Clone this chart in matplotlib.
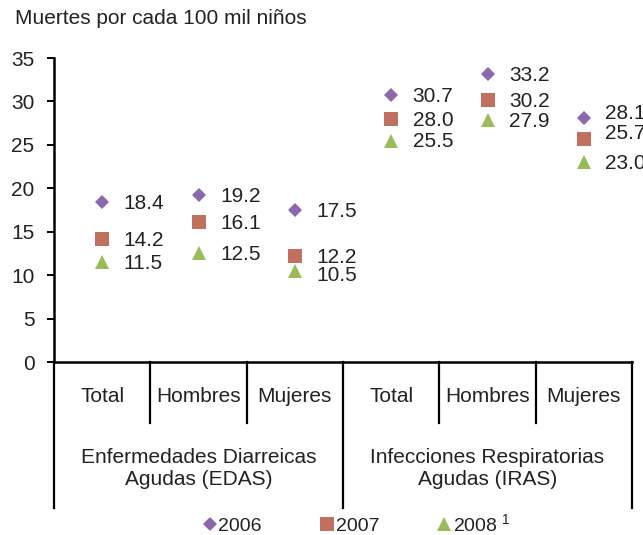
import matplotlib
matplotlib.use("Agg")
import matplotlib.pyplot as plt
from matplotlib.lines import Line2D
from matplotlib.transforms import blended_transform_factory

plt.rcParams['font.family'] = ['Liberation Sans', 'DejaVu Sans']
plt.rcParams['mathtext.fontset'] = 'custom'
plt.rcParams['mathtext.rm'] = 'Liberation Sans'
plt.rcParams['mathtext.it'] = 'Liberation Sans'
plt.rcParams['mathtext.default'] = 'rm'

subgroups = ["Total", "Hombres", "Mujeres", "Total", "Hombres", "Mujeres"]
groups = ["Enfermedades Diarreicas\nAgudas (EDAS)", "Infecciones Respiratorias\nAgudas (IRAS)"]
years = ["2006", "2007", "2008 $^{1}$"]
v2006 = [18.4, 19.2, 17.5, 30.7, 33.2, 28.1]
v2007 = [14.2, 16.1, 12.2, 28.0, 30.2, 25.7]
v2008 = [11.5, 12.5, 10.5, 25.5, 27.9, 23.0]
yticks = [0, 5, 10, 15, 20, 25, 30, 35]

series = [v2006, v2007, v2008]
colors = ["#8B68AC", "#C0705F", "#9BBB59"]
markers = ["D", "s", "^"]
msizes = [7.5, 10.5, 10.5]
# vertical nudges (points) for labels that would otherwise collide
nudges = [
    [0, 0, 0, 0, 0, 4],
    [0, 0, 0, 0, 0, 4.5],
    [0, 0, -2.5, 0, 0, 0],
]
txt = "#222222"
fs = 15

W, H = 643, 535
fig = plt.figure(figsize=(W / 100, H / 100), dpi=100)
ax = fig.add_axes([54 / W, 1 - 362 / H, (632 - 54) / W, (362 - 58) / H])

x = list(range(len(subgroups)))
for vals, c, m, ms, nd in zip(series, colors, markers, msizes, nudges):
    ax.plot(x, vals, linestyle="none", marker=m, markersize=ms, color=c,
            markeredgewidth=0, clip_on=False)
    for xi, v, dy in zip(x, vals, nd):
        ax.annotate(f"{v:.1f}", (xi, v), xytext=(15.5, dy - 1),
                    textcoords="offset points", ha="left", va="center",
                    fontsize=fs, color=txt, annotation_clip=False)

ax.set_xlim(-0.5, 5.5)
ax.set_ylim(0, 35)
ax.set_yticks(yticks)
ax.set_xticks([])
for s in ["top", "right"]:
    ax.spines[s].set_visible(False)
ax.spines["left"].set_linewidth(1.8)
ax.spines["bottom"].set_linewidth(1.8)
ax.tick_params(axis="y", length=5, width=1.4, pad=9, labelsize=fs, labelcolor=txt)

# two-level category axis below the plot
tr = blended_transform_factory(ax.transData, ax.transAxes)
for i in range(1, 6):
    if i == 3:
        continue
    ax.add_line(Line2D([i - 0.5, i - 0.5], [0, -0.2], transform=tr,
                       color="black", lw=1.6, clip_on=False))
for xb in [-0.5, 2.5, 5.5]:
    ax.add_line(Line2D([xb, xb], [0, -0.48], transform=tr,
                       color="black", lw=1.6, clip_on=False))
for xi, name in zip(x, subgroups):
    ax.text(xi, -0.115, name, transform=tr, ha="center", va="center",
            fontsize=fs, color=txt)
for gi, name in enumerate(groups):
    ax.text(1 + 3 * gi, -0.35, name, transform=tr, ha="center", va="center",
            fontsize=fs, color=txt, linespacing=1.15)

fig.text(15 / W, 1 - 19 / H, "Muertes por cada 100 mil niños", ha="left",
         va="center", fontsize=fs, color=txt)

handles = [Line2D([], [], linestyle="none", marker=m, markersize=ms * 0.95,
                  color=c, markeredgewidth=0)
           for m, ms, c in zip(markers, msizes, colors)]
fig.legend(handles, years, loc="center", bbox_to_anchor=(357 / W, 1 - 524 / H),
           ncol=3, frameon=False, fontsize=fs - 1, handlelength=0.7,
           handletextpad=0.1, columnspacing=3.0, labelcolor=txt,
           borderaxespad=0, borderpad=0)

fig.savefig("out.png", dpi=100)
